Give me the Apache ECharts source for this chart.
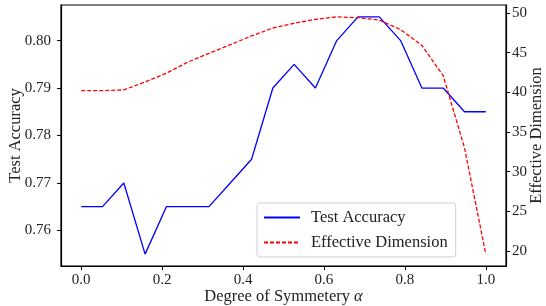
<!DOCTYPE html>
<html>
  <head>
    <meta charset="utf-8" />
    <title>ECharts</title>
    <script src="https://cdn.jsdelivr.net/npm/echarts/dist/echarts.min.js"></script>
    <style>
      body { margin: 0; background: #fff; }
    </style>
  </head>
  <body>
    <div id="main" style="width: 546px; height: 306px;"></div>
    <script type="text/javascript">
      var myChart = echarts.init(document.getElementById('main'));

      var alphas = [0, 0.0526, 0.1053, 0.1579, 0.2105, 0.2632, 0.3158, 0.3684, 0.4211, 0.4737,
                    0.5263, 0.5789, 0.6316, 0.6842, 0.7368, 0.7895, 0.8421, 0.8947, 0.9474, 1.0];
      var testAccuracy = [0.765, 0.765, 0.770, 0.755, 0.765, 0.765, 0.765, 0.770, 0.775, 0.790,
                          0.795, 0.790, 0.800, 0.805, 0.805, 0.800, 0.790, 0.790, 0.785, 0.785];
      var effectiveDim = [40.2, 40.2, 40.3, 41.3, 42.4, 43.8, 44.9, 46.0, 47.1, 48.1,
                          48.7, 49.2, 49.5, 49.4, 49.1, 47.9, 45.9, 42.1, 33.0, 19.6];
      var xTicks = [0, 0.2, 0.4, 0.6, 0.8, 1.0];
      var accTicks = [0.76, 0.77, 0.78, 0.79, 0.80];
      var dimTicks = [20, 25, 30, 35, 40, 45, 50];

      var font = 'Liberation Serif';
      var txt = '#222';

      function pairs(ys) {
        return alphas.map(function (x, i) { return [x, ys[i]]; });
      }

      var option = {
        animation: false,
        grid: {
          left: 61, right: 40, top: 5, bottom: 40,
          outerBoundsMode: 'none',
          show: true, borderColor: '#000', borderWidth: 1.2, backgroundColor: 'transparent'
        },
        legend: {
          left: 257, top: 203,
          orient: 'vertical',
          itemWidth: 36, itemHeight: 12, itemGap: 8,
          padding: [6, 8, 6, 6],
          backgroundColor: 'rgba(255,255,255,0.8)',
          borderColor: '#d0d0d0', borderWidth: 1, borderRadius: 3,
          itemStyle: { opacity: 0 },
          textStyle: { fontFamily: font, fontSize: 16.5, color: txt, padding: [0, 0, 0, 6] },
          data: ['Test Accuracy', 'Effective Dimension']
        },
        xAxis: {
          type: 'value',
          min: -0.05, max: 1.05,
          name: '{n|Degree of Symmetery }{a|α}',
          nameLocation: 'middle', nameGap: 22, nameMoveOverlap: false,
          nameTextStyle: {
            rich: {
              n: { fontFamily: font, fontSize: 16.5, color: txt },
              a: { fontFamily: font, fontSize: 16.5, color: txt, fontStyle: 'italic' }
            }
          },
          axisLine: { onZero: false, lineStyle: { color: '#000', width: 1.2 } },
          axisTick: { show: true, length: 4, customValues: xTicks, lineStyle: { color: '#000' } },
          axisLabel: {
            customValues: xTicks, fontFamily: font, fontSize: 15, color: txt, margin: 7,
            formatter: function (v) { return v.toFixed(1); }
          },
          splitLine: { show: false }
        },
        yAxis: [
          {
            type: 'value',
            min: 0.7525, max: 0.8075,
            name: 'Test Accuracy',
            nameLocation: 'middle', nameGap: 37, nameRotate: 90, nameMoveOverlap: false,
            nameTextStyle: { fontFamily: font, fontSize: 16.5, color: txt },
            axisLine: { show: true, onZero: false, lineStyle: { color: '#000', width: 1.2 } },
            axisTick: { show: true, length: 4, customValues: accTicks, lineStyle: { color: '#000' } },
            axisLabel: {
              customValues: accTicks, fontFamily: font, fontSize: 15, color: txt, margin: 10,
              formatter: function (v) { return v.toFixed(2); }
            },
            splitLine: { show: false }
          },
          {
            type: 'value',
            min: 18.1, max: 51.0,
            position: 'right',
            name: 'Effective Dimension',
            nameLocation: 'middle', nameGap: 22, nameRotate: 90, nameMoveOverlap: false,
            nameTextStyle: { fontFamily: font, fontSize: 16.5, color: txt },
            axisLine: { show: true, onZero: false, lineStyle: { color: '#000', width: 1.2 } },
            axisTick: { show: true, length: 4, customValues: dimTicks, lineStyle: { color: '#000' } },
            axisLabel: {
              customValues: dimTicks, fontFamily: font, fontSize: 15, color: txt, margin: 6
            },
            splitLine: { show: false }
          }
        ],
        series: [
          {
            name: 'Test Accuracy',
            type: 'line',
            yAxisIndex: 0,
            data: pairs(testAccuracy),
            symbol: 'none',
            lineStyle: { color: '#0000ff', width: 1.3 },
            itemStyle: { color: '#0000ff' }
          },
          {
            name: 'Effective Dimension',
            type: 'line',
            yAxisIndex: 1,
            data: pairs(effectiveDim),
            symbol: 'none',
            lineStyle: { color: '#ff0000', width: 1.3, type: [4, 2] },
            itemStyle: { color: '#ff0000' }
          }
        ]
      };

      myChart.setOption(option);
    </script>
  </body>
</html>
